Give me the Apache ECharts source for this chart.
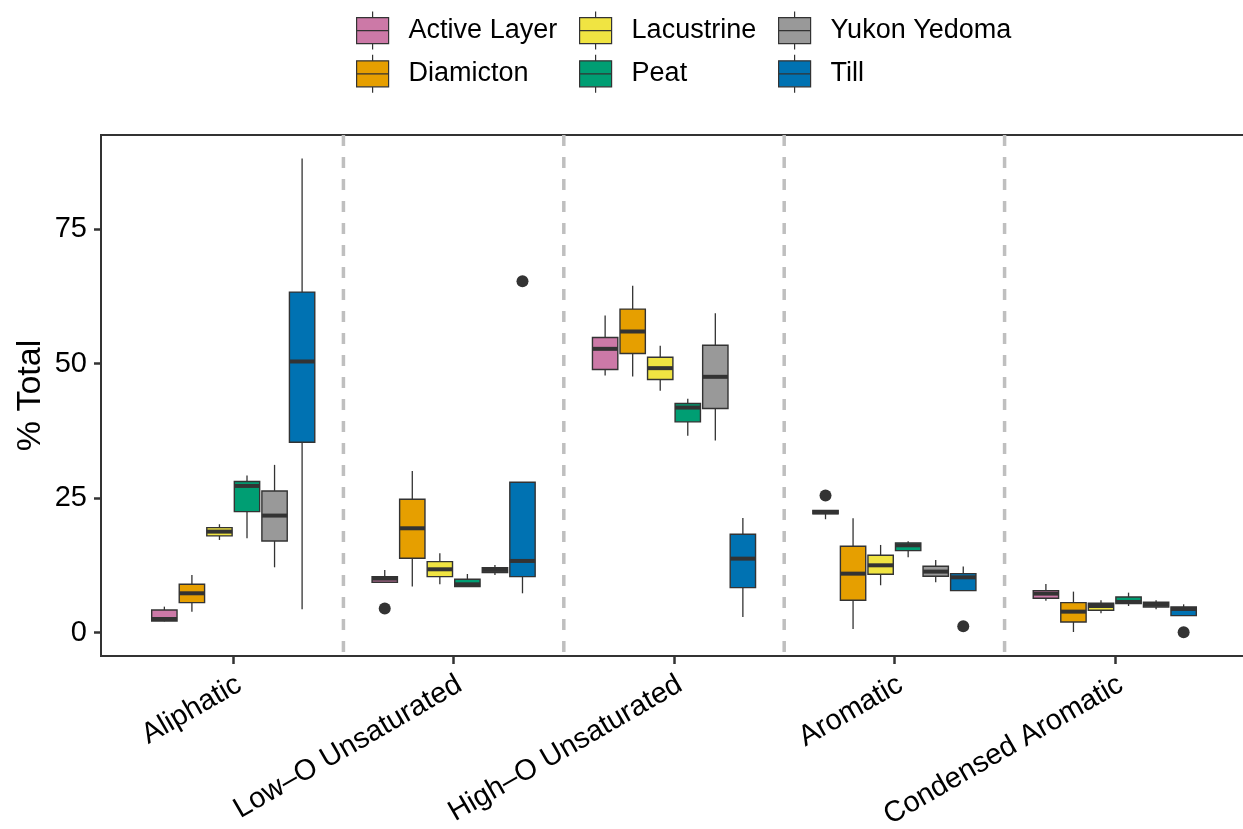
<!DOCTYPE html>
<html>
<head>
<meta charset="utf-8">
<script src="https://cdn.jsdelivr.net/npm/echarts@6/dist/echarts.min.js"></script>
<style>
  html, body { margin: 0; padding: 0; background: #fff; }
  #chart { width: 1243px; height: 829px; }
</style>
</head>
<body>
<div id="chart"></div>
<script>
// Compound classes on the x axis
const categories = ['Aliphatic', 'Low\u2013O Unsaturated', 'High\u2013O Unsaturated', 'Aromatic', 'Condensed Aromatic'];

// Sample groups and their fill colours
const groups = ['Active Layer', 'Diamicton', 'Lacustrine', 'Peat', 'Yukon Yedoma', 'Till'];
const groupColors = ['#CC79A7', '#E69F00', '#F0E442', '#009E73', '#999999', '#0072B2'];

// Box statistics per group, one row per category: [lower whisker, Q1, median, Q3, upper whisker]
const activeLayer = [
  [2.1, 2.18, 2.55, 4.22, 4.84],
  [9.36, 9.36, 10.05, 10.42, 11.66],
  [47.78, 48.9, 52.74, 54.85, 58.94],
  [21.08, 22.07, 22.38, 22.69, 22.69],
  [5.95, 6.39, 7.26, 7.81, 9.05]
];
const diamicton = [
  [3.91, 5.58, 7.32, 8.99, 10.73],
  [8.56, 13.83, 19.4, 24.8, 30.06],
  [47.6, 51.87, 55.96, 60.12, 64.45],
  [0.69, 6.02, 10.97, 16.06, 21.26],
  [0.13, 1.99, 3.91, 5.58, 7.63]
];
const lacustrine = [
  [17.23, 17.98, 18.78, 19.53, 20.15],
  [8.99, 10.42, 11.78, 13.21, 14.76],
  [44.93, 47.04, 49.15, 51.19, 53.3],
  [8.81, 10.85, 12.52, 14.38, 16.3],
  [3.6, 4.16, 4.96, 5.46, 6.02]
];
const peat = [
  [17.54, 22.5, 27.27, 28.08, 29.19],
  [8.56, 8.56, 8.99, 9.92, 10.91],
  [36.57, 39.17, 41.83, 42.58, 43.45],
  [14.01, 15.25, 16.24, 16.68, 16.99],
  [4.96, 5.4, 5.71, 6.64, 7.44]
];
const yukonYedoma = [
  [12.15, 17.05, 21.76, 26.34, 31.18],
  [10.73, 11.16, 11.66, 12.09, 12.59],
  [35.7, 41.65, 47.54, 53.42, 59.37],
  [9.36, 10.48, 11.35, 12.34, 13.52],
  [4.34, 4.78, 5.21, 5.65, 6.02]
];
const till = [
  [4.34, 35.39, 50.39, 63.28, 88.1],
  [7.32, 10.42, 13.33, 27.95, 27.95],
  [2.92, 8.37, 13.76, 18.29, 21.32],
  [7.81, 7.81, 10.29, 10.97, 12.28],
  [3.17, 3.17, 4.41, 4.78, 5.27]
];
const groupStats = [activeLayer, diamicton, lacustrine, peat, yukonYedoma, till];

// Outlying samples: [category, value]
const activeLayerOutliers = [['Low\u2013O Unsaturated', 4.5], ['Aromatic', 25.47]];
const diamictonOutliers = [];
const lacustrineOutliers = [];
const peatOutliers = [];
const yukonYedomaOutliers = [];
const tillOutliers = [['Low\u2013O Unsaturated', 65.3], ['Aromatic', 1.18], ['Condensed Aromatic', 0.07]];
const groupOutliers = [activeLayerOutliers, diamictonOutliers, lacustrineOutliers, peatOutliers, yukonYedomaOutliers, tillOutliers];

// Y-axis tick labels
const yTicks = [0, 25, 50, 75];

const FONT = '"Liberation Sans", Arial, Helvetica, sans-serif';
const INK = '#333333';
const DODGE = 0.75 / groups.length;   // horizontal slot per group inside a category
const BOX_W = DODGE * 0.92;           // box width in category units

function boxRenderer(g) {
  return function (params, api) {
    const cat = api.value(0);
    const x = cat + (g - (groups.length - 1) / 2) * DODGE;
    const lo = api.coord([x, api.value(1)]);
    const q1 = api.coord([x, api.value(2)]);
    const md = api.coord([x, api.value(3)]);
    const q3 = api.coord([x, api.value(4)]);
    const hi = api.coord([x, api.value(5)]);
    const half = api.size([BOX_W, 0])[0] / 2;
    const cx = md[0];
    const thin = { stroke: INK, lineWidth: 1.3 };
    const children = [
      { type: 'line', shape: { x1: cx, y1: q3[1], x2: cx, y2: hi[1] }, style: thin },
      { type: 'line', shape: { x1: cx, y1: q1[1], x2: cx, y2: lo[1] }, style: thin },
      { type: 'rect', shape: { x: cx - half, y: q3[1], width: half * 2, height: q1[1] - q3[1] },
        style: { fill: groupColors[g], stroke: INK, lineWidth: 1.4 } },
      { type: 'line', shape: { x1: cx - half, y1: md[1], x2: cx + half, y2: md[1] },
        style: { stroke: INK, lineWidth: 4, lineCap: 'butt' } }
    ];
    const catName = categories[cat - 1];
    groupOutliers[g].forEach(function (o) {
      if (o[0] !== catName) return;
      const p = api.coord([x, o[1]]);
      children.push({ type: 'circle', shape: { cx: p[0], cy: p[1], r: 6 }, style: { fill: INK } });
    });
    return { type: 'group', children: children };
  };
}

const boxSeries = groups.map(function (name, g) {
  return {
    name: name,
    type: 'custom',
    renderItem: boxRenderer(g),
    itemStyle: { color: groupColors[g] },
    encode: { x: 0, y: [1, 2, 3, 4, 5] },
    data: groupStats[g].map(function (row, i) { return [i + 1].concat(row); }),
    z: 3
  };
});

// Dashed separators between neighbouring categories
const separatorSeries = {
  type: 'custom',
  silent: true,
  z: 1,
  renderItem: function (params, api) {
    const xv = api.value(0);
    const cs = params.coordSys;
    const x = api.coord([xv, 0])[0];
    return {
      type: 'line',
      shape: { x1: x, y1: cs.y, x2: x, y2: cs.y + cs.height },
      style: { stroke: '#BFBFBF', lineWidth: 3.5, lineDash: [11, 11] }
    };
  },
  encode: { x: 0 },
  data: categories.slice(1).map(function (c, i) { return [i + 1.5]; })
};

function legendKey(g) {
  return {
    name: groups[g],
    icon: 'path://M0,6H32V32H0Z M16,0V6 M16,32V38 M0,19H32',
    itemStyle: { color: groupColors[g], borderColor: INK, borderWidth: 1.2 }
  };
}
const legendCols = [356, 579, 778];
const legends = legendCols.map(function (left, col) {
  return {
    orient: 'vertical',
    left: left,
    top: 11,
    padding: 0,
    itemWidth: 32,
    itemHeight: 38,
    itemGap: 4,
    selectedMode: false,
    textStyle: { fontFamily: FONT, fontSize: 27, color: '#000', padding: [0, 0, 0, 15] },
    data: [legendKey(col * 2), legendKey(col * 2 + 1)]
  };
});

const chart = echarts.init(document.getElementById('chart'), null, { renderer: 'canvas' });
chart.setOption({
  animation: false,
  backgroundColor: '#ffffff',
  legend: legends,
  grid: {
    left: 101, top: 135, width: 1146, height: 521,
    show: true, borderColor: INK, borderWidth: 2, backgroundColor: 'transparent',
    containLabel: false, outerBoundsMode: 'none'
  },
  xAxis: {
    type: 'value',
    min: 0.4, max: 5.6,
    axisLine: { show: false, onZero: false },
    splitLine: { show: false },
    axisTick: { show: true, customValues: categories.map(function (c, i) { return i + 1; }),
      length: 8, lineStyle: { color: INK, width: 2.5 } },
    axisLabel: {
      customValues: categories.map(function (c, i) { return i + 1; }),
      formatter: function (v) { return categories[Math.round(v) - 1]; },
      rotate: 30, margin: 30, padding: [0, -7, 0, 0],
      fontFamily: FONT, fontSize: 29, color: '#000'
    }
  },
  yAxis: {
    type: 'value',
    min: -4.33, max: 92.47,
    name: '% Total', nameLocation: 'middle', nameGap: 53, nameMoveOverlap: false,
    nameTextStyle: { fontFamily: FONT, fontSize: 34, color: '#000' },
    axisLine: { show: false, onZero: false },
    splitLine: { show: false },
    axisTick: { show: true, customValues: yTicks, length: 7, lineStyle: { color: INK, width: 2.5 } },
    axisLabel: { customValues: yTicks, margin: 14, fontFamily: FONT, fontSize: 29, color: '#000' }
  },
  series: [separatorSeries].concat(boxSeries)
});
</script>
</body>
</html>
